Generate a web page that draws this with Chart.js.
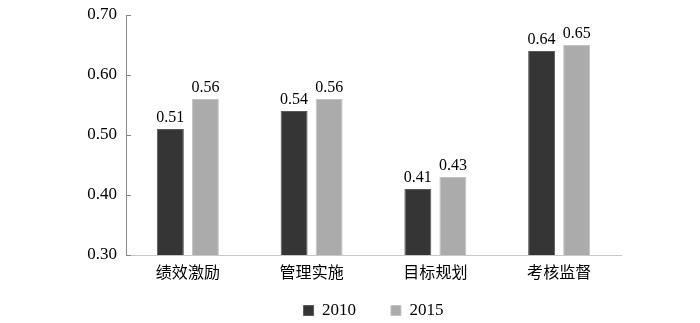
<!DOCTYPE html>
<html>
<head>
<meta charset="utf-8">
<script src="https://cdn.jsdelivr.net/npm/chart.js@4.4.0/dist/chart.umd.min.js"></script>
<style>
  html, body { margin: 0; padding: 0; background: #fff; }
</style>
</head>
<body>
<canvas id="grafico" width="700" height="323"></canvas>
<script>
// dados
const categorias = ['绩效激励', '管理实施', '目标规划', '考核监督'];
const serie2010 = [0.51, 0.54, 0.41, 0.64];
const serie2015 = [0.56, 0.56, 0.43, 0.65];
const rotulosSeries = ['2010', '2015'];

const fonteSerif = "'Liberation Serif', 'Times New Roman', 'Noto Sans CJK SC', serif";

// marcas curtas do eixo Y (para dentro) + rótulos em cima das barras
const extras = {
    id: 'extras',
    afterDatasetsDraw(chart) {
        const ctx = chart.ctx;
        const y = chart.scales.y;
        ctx.save();
        ctx.strokeStyle = '#888';
        ctx.lineWidth = 1;
        y.ticks.forEach(t => {
            const py = Math.round(y.getPixelForValue(t.value)) + 0.5;
            ctx.beginPath();
            ctx.moveTo(y.right, py);
            ctx.lineTo(y.right + 5, py);
            ctx.stroke();
        });

        ctx.fillStyle = '#000';
        ctx.font = '16px ' + fonteSerif;
        ctx.textAlign = 'center';
        ctx.textBaseline = 'bottom';
        chart.data.datasets.forEach((ds, i) => {
            chart.getDatasetMeta(i).data.forEach((bar, j) => {
                ctx.fillText(ds.data[j].toFixed(2), bar.x, bar.y - 3);
            });
        });
        ctx.restore();
    }
};

new Chart(document.getElementById('grafico'), {
    type: 'bar',
    data: {
        labels: categorias,
        datasets: [
            { label: rotulosSeries[0], data: serie2010, backgroundColor: '#353535', borderColor: '#5a5a5a', borderWidth: 1 },
            { label: rotulosSeries[1], data: serie2015, backgroundColor: '#ababab', borderColor: '#c4c4c4', borderWidth: 1 }
        ]
    },
    options: {
        responsive: false,
        animation: false,
        layout: { padding: { left: 0, right: 79, top: 15, bottom: -6 } },
        datasets: { bar: { categoryPercentage: 0.566, barPercentage: 0.77 } },
        scales: {
            x: {
                grid: { display: false, drawTicks: false },
                border: { color: '#c8c8c8', width: 1 },
                ticks: { color: '#000', padding: 9, font: { family: fonteSerif, size: 16 } },
                afterFit: s => { s.height = 41; }
            },
            y: {
                min: 0.3,
                max: 0.7,
                grid: { display: false, drawTicks: false },
                border: { color: '#888', width: 1 },
                ticks: {
                    stepSize: 0.1,
                    padding: 9,
                    color: '#000',
                    font: { family: fonteSerif, size: 17 },
                    callback: v => v.toFixed(2)
                },
                afterFit: s => { s.width = 126; s.paddingTop = 0; s.paddingBottom = 0; }
            }
        },
        plugins: {
            legend: {
                position: 'bottom',
                fullSize: false,
                labels: {
                    boxWidth: 10,
                    boxHeight: 10,
                    padding: 6,
                    color: '#000',
                    font: { family: fonteSerif, size: 17 },
                    // espaço extra entre os itens da legenda
                    generateLabels: chart => Chart.defaults.plugins.legend.labels.generateLabels(chart)
                        .map((item, i) => ({ ...item, text: i === 0 ? item.text + '\u2003\u2002\u2009' : item.text }))
                }
            },
            tooltip: { enabled: false }
        }
    },
    plugins: [extras]
});
</script>
</body>
</html>
